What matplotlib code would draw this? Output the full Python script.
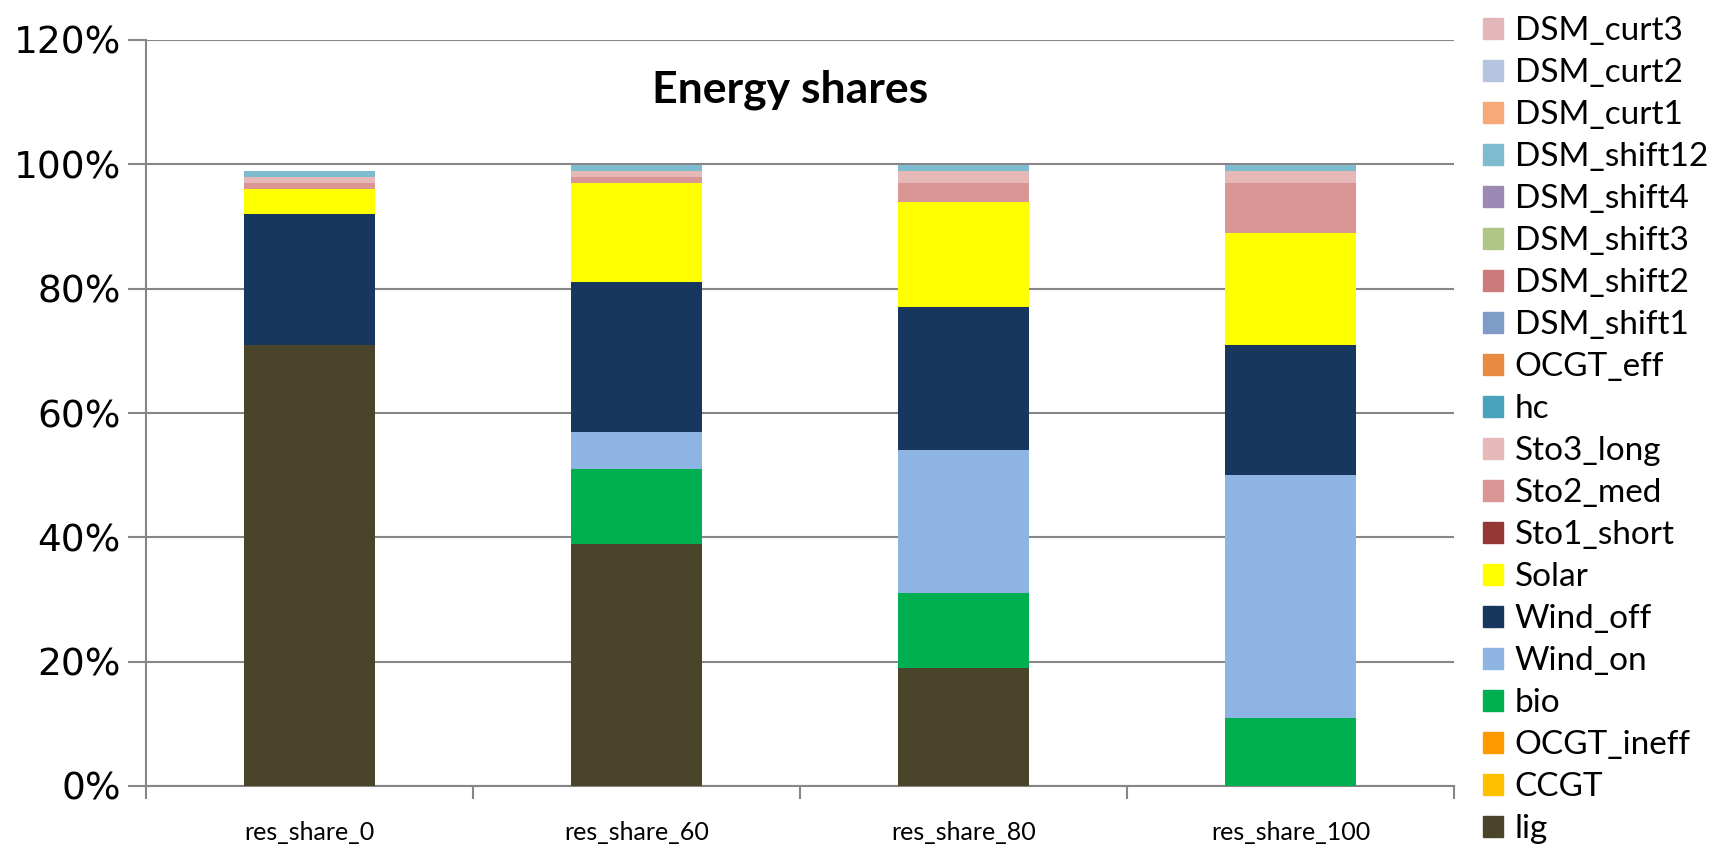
import numpy as np
import matplotlib
matplotlib.use('Agg')
import matplotlib.pyplot as plt
from matplotlib.patches import Patch

plt.rcParams['font.family'] = ['Lato', 'DejaVu Sans']

# scenarios and energy shares (%) per technology, bottom to top
scenarios = ['res_share_0', 'res_share_60', 'res_share_80', 'res_share_100']
techs = ['lig', 'CCGT', 'OCGT_ineff', 'bio', 'Wind_on', 'Wind_off', 'Solar',
         'Sto1_short', 'Sto2_med', 'Sto3_long', 'hc', 'OCGT_eff',
         'DSM_shift1', 'DSM_shift2', 'DSM_shift3', 'DSM_shift4', 'DSM_shift12',
         'DSM_curt1', 'DSM_curt2', 'DSM_curt3']
lig = [71, 39, 19, 0]
ccgt = [0, 0, 0, 0]
ocgt_ineff = [0, 0, 0, 0]
bio = [0, 12, 12, 11]
wind_on = [0, 6, 23, 39]
wind_off = [21, 24, 23, 21]
solar = [4, 16, 17, 18]
sto1_short = [0, 0, 0, 0]
sto2_med = [1, 1, 3, 8]
sto3_long = [1, 1, 2, 2]
hc = [0, 0, 0, 0]
ocgt_eff = [0, 0, 0, 0]
dsm_shift1 = [0, 0, 0, 0]
dsm_shift2 = [0, 0, 0, 0]
dsm_shift3 = [0, 0, 0, 0]
dsm_shift4 = [0, 0, 0, 0]
dsm_shift12 = [1, 0.9, 0.9, 0.9]
dsm_curt1 = [0, 0, 0, 0]
dsm_curt2 = [0, 0, 0, 0]
dsm_curt3 = [0, 0, 0, 0]

series = [lig, ccgt, ocgt_ineff, bio, wind_on, wind_off, solar, sto1_short,
          sto2_med, sto3_long, hc, ocgt_eff, dsm_shift1, dsm_shift2,
          dsm_shift3, dsm_shift4, dsm_shift12, dsm_curt1, dsm_curt2, dsm_curt3]
colors = ['#4a452a', '#ffc000', '#ff9900', '#00b050', '#8eb4e3', '#17375e',
          '#ffff00', '#953735', '#d99694', '#e6b9b8', '#4aa3bc', '#e88a3f',
          '#7f9bc8', '#cc7b7a', '#afc684', '#9c89b4', '#7ebbcf', '#f9a877',
          '#b7c4df', '#e3b7b9']

fig = plt.figure(figsize=(17.11, 8.5), dpi=100)
ax = fig.add_axes([146 / 1711, 1 - 786 / 850, (1454 - 146) / 1711, (786 - 40) / 850])

x = np.arange(len(scenarios))
bottom = np.zeros(len(scenarios))
for name, vals, c in zip(techs, series, colors):
    vals = np.array(vals, dtype=float)
    ax.bar(x, vals, 0.4, bottom=bottom, color=c, label=name, zorder=3)
    bottom += vals

ax.set_xlim(-0.5, 3.5)
ax.set_ylim(0, 120)
ax.set_yticks(np.arange(0, 121, 20))
ax.set_yticklabels(['%d%%' % v for v in range(0, 121, 20)],
                   fontsize=27, family='DejaVu Sans')
ax.grid(axis='y', color='#868686', linewidth=1.5, zorder=0)

# x ticks at category boundaries, labels centred under bars
ax.set_xticks(np.arange(-0.5, 4, 1))
ax.set_xticklabels([])
ax.set_xticks(x, minor=True)
ax.set_xticklabels(scenarios, minor=True, fontsize=18)
ax.tick_params(axis='x', which='minor', length=0, pad=25)
ax.tick_params(axis='x', which='major', length=9, width=1.5, color='#868686')
ax.tick_params(axis='y', length=13, width=1.5, color='#868686', pad=5)

for s in ['top', 'right']:
    ax.spines[s].set_visible(False)
for s in ['left', 'bottom']:
    ax.spines[s].set_color('#868686')
    ax.spines[s].set_linewidth(1.5)

ax.text(1.47, 112, 'Energy shares', ha='center', va='center',
        fontsize=32, fontweight='bold')

handles = [Patch(color=c, label=n) for n, c in zip(techs, colors)][::-1]
fig.legend(handles=handles, loc='center left',
           bbox_to_anchor=(1483 / 1711, 1 - 430 / 850), frameon=False,
           fontsize=24, handlelength=0.6, handleheight=0.6,
           handletextpad=0.35, labelspacing=0.36, borderpad=0, borderaxespad=0)

fig.savefig('out.png', dpi=100)
